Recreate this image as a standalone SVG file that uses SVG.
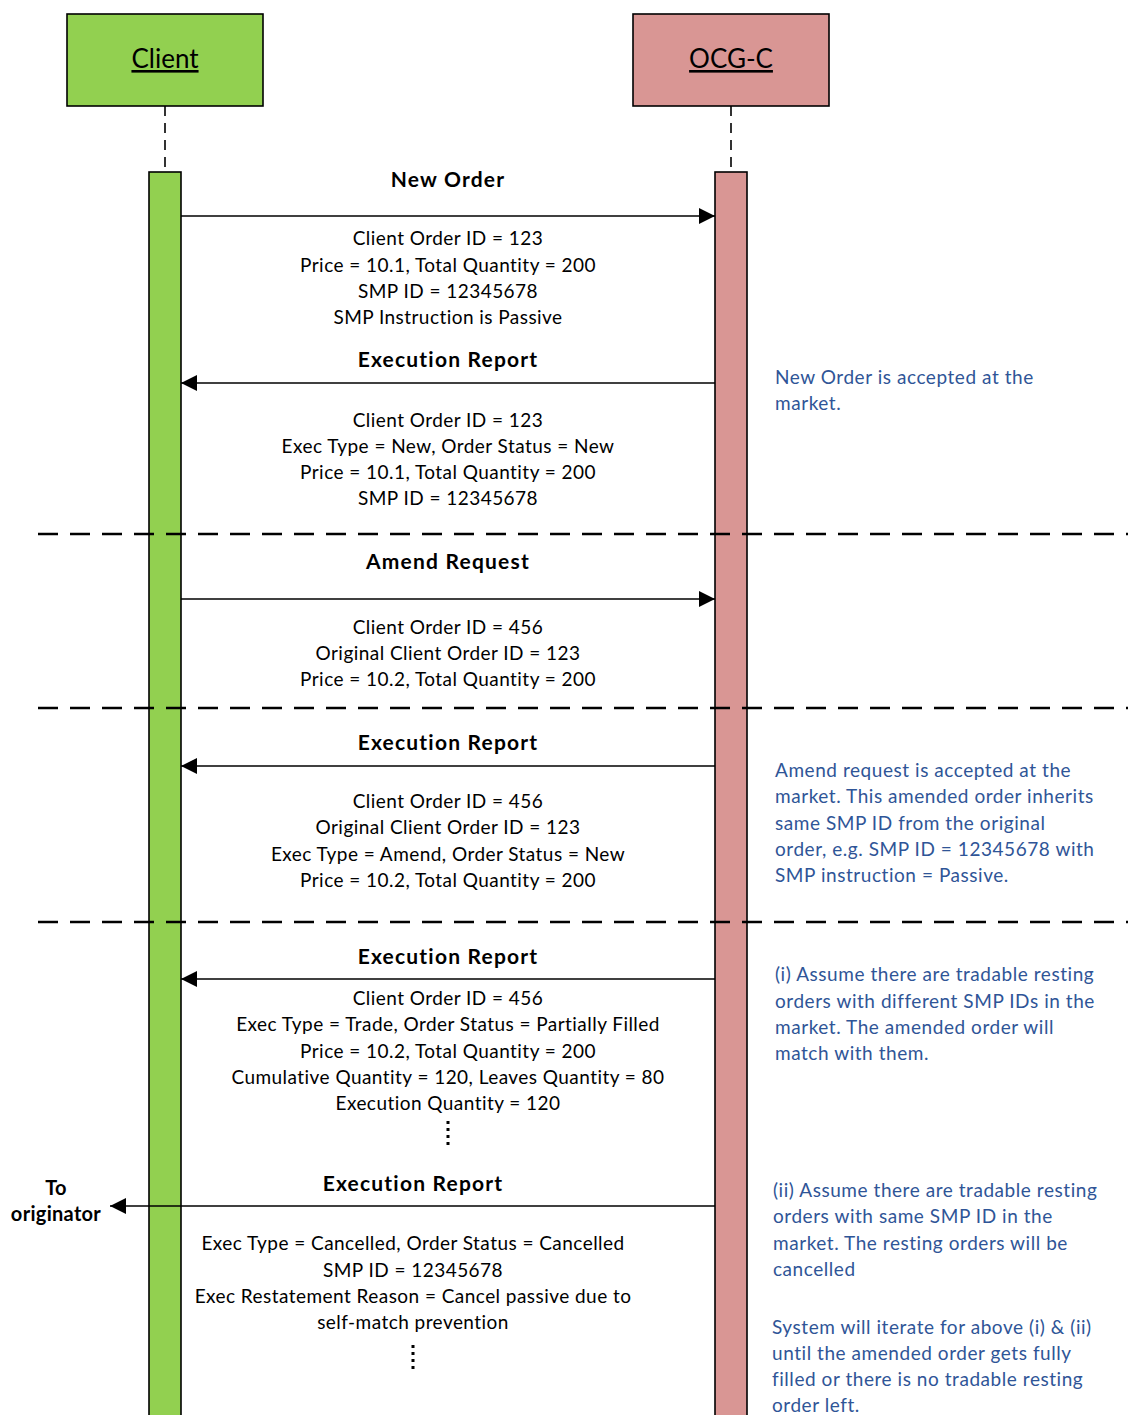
<svg xmlns="http://www.w3.org/2000/svg" width="1134" height="1415" viewBox="0 0 1134 1415">
<style>
.t{font-family:Lato,"Liberation Sans",sans-serif;font-size:19px;letter-spacing:0.45px;fill:#000;text-anchor:middle}
.b{font-family:Lato,"Liberation Sans",sans-serif;font-size:21px;letter-spacing:1.2px;font-weight:bold;fill:#000;text-anchor:middle}
.n{font-family:Lato,"Liberation Sans",sans-serif;font-size:19px;letter-spacing:0.55px;fill:#2f5597}
.h{font-family:Lato,"Liberation Sans",sans-serif;font-size:26px;fill:#000;text-anchor:middle;text-decoration:underline}
.msg{stroke:#000;stroke-width:1.6;fill:none}
.sep{stroke:#000;stroke-width:2.5;stroke-dasharray:20 12;fill:none}
.life{stroke:#000;stroke-width:1.6;stroke-dasharray:10 7;fill:none}
</style>
<defs>
<marker id="ah" markerWidth="16" markerHeight="16" refX="16" refY="8" orient="auto" markerUnits="userSpaceOnUse">
<path d="M0,0 L16,8 L0,16 Z" fill="#000"/>
</marker>
</defs>
<rect width="1134" height="1415" fill="#fff"/>
<g id="client">
<rect x="67" y="14" width="196" height="92" fill="#92d050" stroke="#000" stroke-width="1.6"/>
<text class="h" x="165" y="68">Client</text>
<line class="life" x1="165" y1="106" x2="165" y2="172"/>
<rect x="149" y="172" width="32" height="1260" fill="#92d050" stroke="#000" stroke-width="1.6"/>
</g>
<g id="ocg">
<rect x="633" y="14" width="196" height="92" fill="#d99694" stroke="#000" stroke-width="1.6"/>
<text class="h" x="731" y="68">OCG-C</text>
<line class="life" x1="731" y1="106" x2="731" y2="172"/>
<rect x="715" y="172" width="32" height="1260" fill="#d99694" stroke="#000" stroke-width="1.6"/>
</g>
<g id="connectors">
<line class="msg" x1="181" y1="216" x2="715" y2="216" marker-end="url(#ah)"/>
<line class="msg" x1="715" y1="383" x2="181" y2="383" marker-end="url(#ah)"/>
<line class="msg" x1="181" y1="599" x2="715" y2="599" marker-end="url(#ah)"/>
<line class="msg" x1="715" y1="766" x2="181" y2="766" marker-end="url(#ah)"/>
<line class="msg" x1="715" y1="979" x2="181" y2="979" marker-end="url(#ah)"/>
<line class="msg" x1="715" y1="1206" x2="110" y2="1206" marker-end="url(#ah)"/>
<line class="sep" x1="38" y1="534" x2="1128" y2="534"/>
<line class="sep" x1="38" y1="708" x2="1128" y2="708"/>
<line class="sep" x1="38" y1="922" x2="1128" y2="922"/>
<line x1="448" y1="1121" x2="448" y2="1148" stroke="#000" stroke-width="3" stroke-dasharray="3 4"/>
<line x1="413" y1="1345" x2="413" y2="1372" stroke="#000" stroke-width="3" stroke-dasharray="3 4"/>
</g>
<g id="labels">
<text class="b" x="448" y="187">New Order</text>
<text class="t" x="448" y="245">Client Order ID = 123</text>
<text class="t" x="448" y="272">Price = 10.1, Total Quantity = 200</text>
<text class="t" x="448" y="298">SMP ID = 12345678</text>
<text class="t" x="448" y="324">SMP Instruction is Passive</text>
<text class="b" x="448" y="367">Execution Report</text>
<text class="t" x="448" y="427">Client Order ID = 123</text>
<text class="t" x="448" y="453">Exec Type = New, Order Status = New</text>
<text class="t" x="448" y="479">Price = 10.1, Total Quantity = 200</text>
<text class="t" x="448" y="505">SMP ID = 12345678</text>
<text class="b" x="448" y="569">Amend Request</text>
<text class="t" x="448" y="634">Client Order ID = 456</text>
<text class="t" x="448" y="660">Original Client Order ID = 123</text>
<text class="t" x="448" y="686">Price = 10.2, Total Quantity = 200</text>
<text class="b" x="448" y="750">Execution Report</text>
<text class="t" x="448" y="808">Client Order ID = 456</text>
<text class="t" x="448" y="834">Original Client Order ID = 123</text>
<text class="t" x="448" y="861">Exec Type = Amend, Order Status = New</text>
<text class="t" x="448" y="887">Price = 10.2, Total Quantity = 200</text>
<text class="b" x="448" y="964">Execution Report</text>
<text class="t" x="448" y="1005">Client Order ID = 456</text>
<text class="t" x="448" y="1031">Exec Type = Trade, Order Status = Partially Filled</text>
<text class="t" x="448" y="1058">Price = 10.2, Total Quantity = 200</text>
<text class="t" x="448" y="1084">Cumulative Quantity = 120, Leaves Quantity = 80</text>
<text class="t" x="448" y="1110">Execution Quantity = 120</text>
<text class="b" x="413" y="1191">Execution Report</text>
<text class="t" x="413" y="1250">Exec Type = Cancelled, Order Status = Cancelled</text>
<text class="t" x="413" y="1277">SMP ID = 12345678</text>
<text class="t" x="413" y="1303">Exec Restatement Reason = Cancel passive due to</text>
<text class="t" x="413" y="1329">self-match prevention</text>
<text class="b" x="56" y="1195" style="letter-spacing:0.3px;font-size:20px">To</text>
<text class="b" x="56" y="1221" style="letter-spacing:0.3px;font-size:20px">originator</text>
</g>
<g id="notes">
<text class="n" x="775" y="384">New Order is accepted at the</text>
<text class="n" x="775" y="410">market.</text>
<text class="n" x="775" y="777">Amend request is accepted at the</text>
<text class="n" x="775" y="803">market. This amended order inherits</text>
<text class="n" x="775" y="830">same SMP ID from the original</text>
<text class="n" x="775" y="856">order, e.g. SMP ID = 12345678 with</text>
<text class="n" x="775" y="882">SMP instruction = Passive.</text>
<text class="n" x="775" y="981">(i) Assume there are tradable resting</text>
<text class="n" x="775" y="1008">orders with different SMP IDs in the</text>
<text class="n" x="775" y="1034">market. The amended order will</text>
<text class="n" x="775" y="1060">match with them.</text>
<text class="n" x="773" y="1197">(ii) Assume there are tradable resting</text>
<text class="n" x="773" y="1223">orders with same SMP ID in the</text>
<text class="n" x="773" y="1250">market. The resting orders will be</text>
<text class="n" x="773" y="1276">cancelled</text>
<text class="n" x="772" y="1334">System will iterate for above (i) &amp; (ii)</text>
<text class="n" x="772" y="1360">until the amended order gets fully</text>
<text class="n" x="772" y="1386">filled or there is no tradable resting</text>
<text class="n" x="772" y="1412">order left.</text>
</g>
</svg>
